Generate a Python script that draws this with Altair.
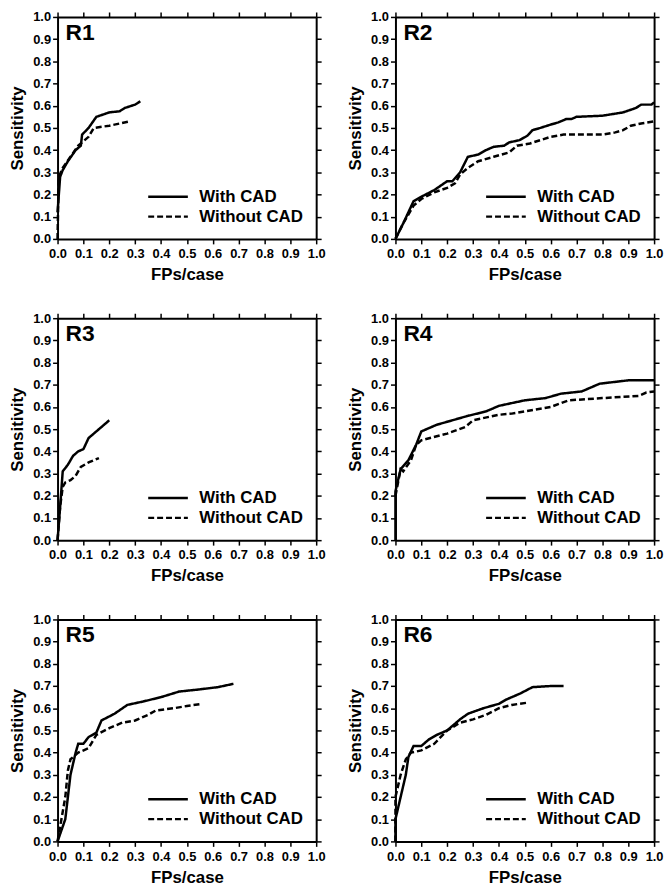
import altair as alt
import pandas as pd

FONT = "Liberation Sans"
MODES = ["With CAD", "Without CAD"]
PANELS = ["R1", "R2", "R3", "R4", "R5", "R6"]
TICKS = [round(i * 0.1, 1) for i in range(11)]

# ---- R1 ----
R1_with_fp = [0.0, 0.005, 0.01, 0.02, 0.04, 0.07, 0.09, 0.095, 0.12, 0.15, 0.2, 0.24, 0.26, 0.3, 0.32]
R1_with_sens = [0.12, 0.2, 0.28, 0.31, 0.35, 0.40, 0.42, 0.47, 0.50, 0.55, 0.57, 0.575, 0.59, 0.605, 0.62]
R1_without_fp = [0.0, 0.003, 0.005, 0.02, 0.05, 0.08, 0.12, 0.14, 0.2, 0.28]
R1_without_sens = [0.0, 0.2, 0.28, 0.32, 0.37, 0.42, 0.46, 0.50, 0.51, 0.53]

# ---- R2 ----
R2_with_fp = [0.0, 0.03, 0.07, 0.1, 0.15, 0.2, 0.22, 0.25, 0.28, 0.32, 0.35, 0.38, 0.42, 0.44, 0.48,
              0.51, 0.53, 0.56, 0.6, 0.63, 0.66, 0.68, 0.7, 0.8, 0.88, 0.93, 0.95, 0.99, 1.0]
R2_with_sens = [0.0, 0.07, 0.17, 0.19, 0.22, 0.26, 0.26, 0.30, 0.37, 0.38, 0.40, 0.415, 0.42, 0.435, 0.445,
                0.465, 0.49, 0.50, 0.515, 0.525, 0.54, 0.54, 0.55, 0.555, 0.57, 0.59, 0.605, 0.605, 0.615]
R2_without_fp = [0.0, 0.03, 0.07, 0.1, 0.15, 0.2, 0.23, 0.25, 0.28, 0.32, 0.38, 0.44, 0.47, 0.52, 0.6,
                 0.65, 0.8, 0.85, 0.88, 0.91, 0.95, 1.0]
R2_without_sens = [0.0, 0.07, 0.15, 0.18, 0.21, 0.23, 0.25, 0.29, 0.32, 0.35, 0.37, 0.39, 0.42, 0.43, 0.46,
                   0.47, 0.47, 0.48, 0.49, 0.51, 0.52, 0.53]

# ---- R3 ----
R3_with_fp = [0.0, 0.01, 0.02, 0.04, 0.06, 0.08, 0.1, 0.12, 0.15, 0.18, 0.2]
R3_with_sens = [0.0, 0.15, 0.31, 0.34, 0.38, 0.40, 0.41, 0.46, 0.49, 0.52, 0.54]
R3_without_fp = [0.0, 0.01, 0.02, 0.03, 0.05, 0.07, 0.09, 0.12, 0.16]
R3_without_sens = [0.0, 0.15, 0.24, 0.26, 0.27, 0.29, 0.33, 0.35, 0.37]

# ---- R4 ----
R4_with_fp = [0.0, 0.0, 0.01, 0.02, 0.05, 0.08, 0.1, 0.16, 0.22, 0.28, 0.35, 0.4, 0.5, 0.58, 0.64,
              0.72, 0.79, 0.9, 1.0]
R4_with_sens = [0.0, 0.22, 0.27, 0.32, 0.36, 0.43, 0.49, 0.52, 0.54, 0.56, 0.58, 0.605, 0.63, 0.64, 0.66,
                0.67, 0.705, 0.72, 0.72]
R4_without_fp = [0.0, 0.02, 0.03, 0.06, 0.08, 0.1, 0.2, 0.27, 0.3, 0.4, 0.45, 0.5, 0.6, 0.67, 0.8,
                 0.94, 0.97, 1.0]
R4_without_sens = [0.2, 0.32, 0.31, 0.36, 0.43, 0.45, 0.48, 0.51, 0.54, 0.565, 0.57, 0.58, 0.60, 0.63, 0.64,
                   0.65, 0.665, 0.67]

# ---- R5 ----
R5_with_fp = [0.0, 0.03, 0.05, 0.07, 0.08, 0.1, 0.12, 0.15, 0.17, 0.22, 0.27, 0.33, 0.4, 0.47, 0.55, 0.62, 0.68]
R5_with_sens = [0.0, 0.1, 0.3, 0.4, 0.44, 0.44, 0.47, 0.49, 0.545, 0.575, 0.615, 0.63, 0.65, 0.675, 0.685,
                0.695, 0.71]
R5_without_fp = [0.0, 0.03, 0.04, 0.05, 0.08, 0.12, 0.15, 0.2, 0.25, 0.3, 0.35, 0.38, 0.45, 0.5, 0.56]
R5_without_sens = [0.0, 0.2, 0.32, 0.37, 0.40, 0.42, 0.48, 0.51, 0.535, 0.545, 0.57, 0.59, 0.60, 0.61, 0.62]

# ---- R6 ----
R6_with_fp = [0.0, 0.0, 0.02, 0.04, 0.05, 0.07, 0.1, 0.13, 0.16, 0.2, 0.25, 0.28, 0.34, 0.4, 0.43, 0.48,
              0.53, 0.6, 0.65]
R6_with_sens = [0.0, 0.1, 0.2, 0.3, 0.38, 0.43, 0.43, 0.46, 0.48, 0.50, 0.55, 0.575, 0.60, 0.62, 0.64, 0.665,
                0.695, 0.70, 0.70]
R6_without_fp = [0.0, 0.0, 0.02, 0.04, 0.06, 0.1, 0.15, 0.2, 0.25, 0.3, 0.35, 0.4, 0.45, 0.51]
R6_without_sens = [0.0, 0.2, 0.3, 0.37, 0.40, 0.41, 0.44, 0.50, 0.535, 0.55, 0.57, 0.60, 0.615, 0.625]

SERIES = {
    "R1": (R1_with_fp, R1_with_sens, R1_without_fp, R1_without_sens),
    "R2": (R2_with_fp, R2_with_sens, R2_without_fp, R2_without_sens),
    "R3": (R3_with_fp, R3_with_sens, R3_without_fp, R3_without_sens),
    "R4": (R4_with_fp, R4_with_sens, R4_without_fp, R4_without_sens),
    "R5": (R5_with_fp, R5_with_sens, R5_without_fp, R5_without_sens),
    "R6": (R6_with_fp, R6_with_sens, R6_without_fp, R6_without_sens),
}

W, H = 261, 224

base_axis = dict(
    values=TICKS, format=".1f", grid=False,
    labelFont=FONT, labelFontWeight="bold", labelFontSize=13, labelColor="black",
    labelFlush=False, labelOverlap=False,
    tickColor="black", tickWidth=1.5, tickSize=5,
    domainColor="black", domainWidth=2,
)
title_style = dict(titleFont=FONT, titleFontWeight="bold", titleFontSize=17, titleColor="black")


def panel(name):
    wf, ws, of, os_ = SERIES[name]
    rows = []
    for i, (x, y) in enumerate(zip(wf, ws)):
        rows.append({"fp": x, "sens": y, "mode": MODES[0], "i": i})
    for i, (x, y) in enumerate(zip(of, os_)):
        rows.append({"fp": x, "sens": y, "mode": MODES[1], "i": i})
    df = pd.DataFrame(rows)
    xs = alt.Scale(domain=[0, 1], nice=False, zero=False)
    ys = alt.Scale(domain=[0, 1], nice=False, zero=False)

    lines = alt.Chart(df).mark_line(color="black", strokeWidth=2.5).encode(
        x=alt.X("fp:Q", scale=xs, axis=alt.Axis(orient="bottom", title="FPs/case",
                                                  labelPadding=4, titlePadding=6,
                                                  **base_axis, **title_style)),
        y=alt.Y("sens:Q", scale=ys, axis=alt.Axis(orient="left", title="Sensitivity",
                                                    labelPadding=2, titlePadding=6,
                                                    **base_axis, **title_style)),
        strokeDash=alt.StrokeDash(
            "mode:N",
            scale=alt.Scale(domain=MODES, range=[[1, 0], [6, 3]]),
            legend=alt.Legend(
                orient="none", legendX=110, legendY=170, title=None,
                symbolType="M-3,0H1", symbolSize=400, symbolStrokeWidth=2.5,
                symbolStrokeColor="black", symbolFillColor="transparent",
                labelFont=FONT, labelFontSize=17, labelFontWeight="bold",
                labelColor="black", labelOffset=10, padding=0, rowPadding=0,
            ),
        ),
        order="i:Q",
    )

    frame = alt.Chart(df).mark_line(opacity=0).encode(
        x=alt.X("fp:Q", scale=xs, axis=alt.Axis(orient="top", labels=False, title=None, **base_axis)),
        y=alt.Y("sens:Q", scale=ys, axis=alt.Axis(orient="right", labels=False, title=None, **base_axis)),
        detail="mode:N",
    )

    label = alt.Chart(pd.DataFrame({"name": [name]})).mark_text(
        font=FONT, fontWeight="bold", fontSize=23, align="left",
        baseline="alphabetic", color="black",
    ).encode(x=alt.value(8), y=alt.value(23), text="name:N")

    return alt.layer(lines, frame, label).resolve_axis(
        x="independent", y="independent"
    ).properties(width=W, height=H)


rows = []
for a, b in [("R1", "R2"), ("R3", "R4"), ("R5", "R6")]:
    rows.append(
        alt.hconcat(panel(a), panel(b), spacing=20)
        .resolve_scale(strokeDash="independent")
        .resolve_legend(strokeDash="independent")
    )

chart = (
    alt.vconcat(*rows, spacing=28)
    .resolve_scale(strokeDash="independent")
    .resolve_legend(strokeDash="independent")
    .properties(padding={"top": -2, "left": 0, "right": 0, "bottom": 0})
    .configure_view(stroke="transparent")
)

chart.save("out.html", embed_options={"renderer": "svg", "actions": False})
